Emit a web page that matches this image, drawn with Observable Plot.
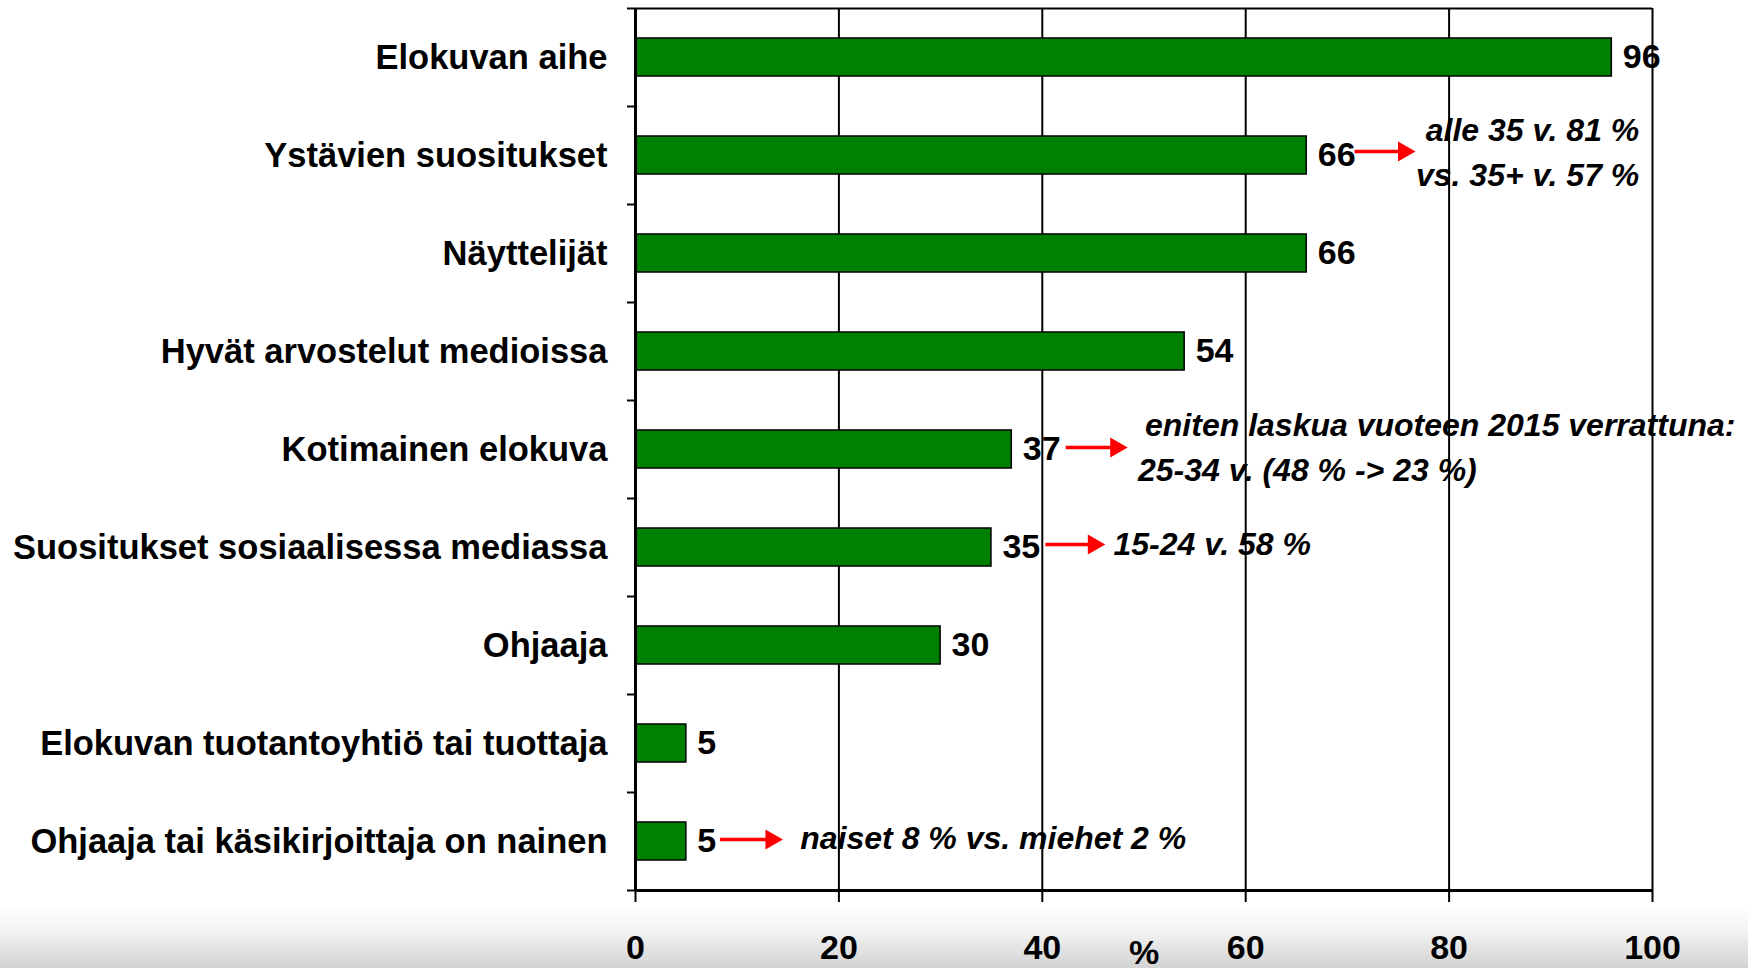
<!DOCTYPE html>
<html>
<head>
<meta charset="utf-8">
<script src="https://cdn.jsdelivr.net/npm/d3@7"></script>
<script src="https://cdn.jsdelivr.net/npm/@observablehq/plot@0.6"></script>
<style>
  html, body { margin: 0; padding: 0; }
  body {
    width: 1748px; height: 968px; overflow: hidden;
    background: linear-gradient(to bottom, #ffffff 0px, #ffffff 905px, #f3f3f3 930px, #d3d3d3 968px);
    font-family: "Liberation Sans", Arial, sans-serif;
  }
</style>
</head>
<body>
<div id="chart"></div>
<script>
const categories = [
  "Elokuvan aihe",
  "Ystävien suositukset",
  "Näyttelijät",
  "Hyvät arvostelut medioissa",
  "Kotimainen elokuva",
  "Suositukset sosiaalisessa mediassa",
  "Ohjaaja",
  "Elokuvan tuotantoyhtiö tai tuottaja",
  "Ohjaaja tai käsikirjoittaja on nainen"
];
const values = [96, 66, 66, 54, 37, 35, 30, 5, 5];
const xTicks = [0, 20, 40, 60, 80, 100];

// annotation texts (x in % units, attached to a category row)
const noteTexts = [
  "alle 35 v. 81 %",
  "vs. 35+ v. 57 %",
  "eniten laskua vuoteen 2015 verrattuna:",
  "25-34 v. (48 % -> 23 %)",
  "15-24 v. 58 %",
  "naiset 8 % vs. miehet 2 %"
];
const noteCategory = [1, 1, 4, 4, 5, 8];
const noteX = [98.7, 98.7, 50.1, 49.4, 47.0, 16.2];

// red arrows (start and tip, in % units)
const arrowCategory = [1, 4, 5, 8];
const arrowFrom = [70.7, 42.3, 40.3, 8.3];
const arrowTo = [76.3, 48.0, 45.8, 14.1];

const rows = categories.map((c, i) => ({category: c, i, value: values[i]}));

// layout offsets for annotation lines (px) and anchors
const noteDy = [-25, 20, -24, 21, -3, -3];
const noteAnchor = ["end", "end", "start", "start", "start", "start"];
const arrowDy = [-4, -2, -3, -2];

const noteMarks = noteTexts.map((t, k) =>
  Plot.text([{text: t, i: noteCategory[k], x: noteX[k]}], {
    x: "x", y: d => d.i + 0.5, text: "text",
    textAnchor: noteAnchor[k], dy: noteDy[k],
    fontSize: 32, fontWeight: "bold", fontStyle: "italic", fill: "black"
  })
);
const arrowMarks = arrowCategory.flatMap((c, k) => {
  const d = [{i: c, x1: arrowFrom[k], x2: arrowTo[k]}];
  return [
    Plot.link(d, {
      x1: "x1", x2: e => e.x2 - 1.0, y1: e => e.i + 0.5, y2: e => e.i + 0.5,
      dy: arrowDy[k], stroke: "#ff0000", strokeWidth: 3.5
    }),
    Plot.dot(d, {
      x: e => e.x2 - 0.75, y: e => e.i + 0.5, dy: arrowDy[k],
      symbol: "triangle", rotate: 90, r: 7.5, fill: "#ff0000", stroke: "none"
    })
  ];
});

const plot = Plot.plot({
  width: 1748,
  height: 968,
  marginTop: 8,
  marginBottom: 78,
  marginLeft: 635,
  marginRight: 96,
  style: {background: "transparent", fontFamily: "Liberation Sans, Arial, sans-serif", color: "black"},
  x: {domain: [0, 100]},
  y: {domain: [0, 9], reverse: true},
  marks: [
    Plot.ruleX(xTicks.slice(1), {stroke: "black", strokeWidth: 2}),
    Plot.ruleY([0], {x1: 0, x2: 100, stroke: "black", strokeWidth: 2}),
    Plot.rectX(rows, {
      x1: 0, x2: "value",
      y1: d => d.i + 0.306, y2: d => d.i + 0.694,
      fill: "#008000", stroke: "black", strokeWidth: 1.5
    }),
    Plot.ruleX([0], {stroke: "black", strokeWidth: 3}),
    Plot.ruleY([9], {x1: 0, x2: 100, stroke: "black", strokeWidth: 3}),
    Plot.axisY({
      ticks: d3.range(0, categories.length + 1),
      tickSize: 8, tickFormat: () => "", strokeWidth: 2, label: null
    }),
    Plot.axisY({
      ticks: categories.map((_, i) => i + 0.5),
      tickSize: 0, tickPadding: 28,
      tickFormat: d => categories[Math.floor(d)],
      fontSize: 34.5, fontWeight: "bold", label: null
    }),
    Plot.axisX({
      ticks: xTicks, tickSize: 12, tickPadding: 32, strokeWidth: 2,
      fontSize: 34, fontWeight: "bold", label: null
    }),
    Plot.text(["%"], {x: 50, frameAnchor: "bottom", dy: 73, lineAnchor: "bottom", fontSize: 34, fontWeight: "bold"}),
    Plot.text(rows, {
      x: "value", y: d => d.i + 0.5, text: d => String(d.value),
      dx: 11, textAnchor: "start", fontSize: 34, fontWeight: "bold"
    }),
    ...arrowMarks,
    ...noteMarks
  ]
});
document.getElementById("chart").appendChild(plot);
</script>
</body>
</html>
